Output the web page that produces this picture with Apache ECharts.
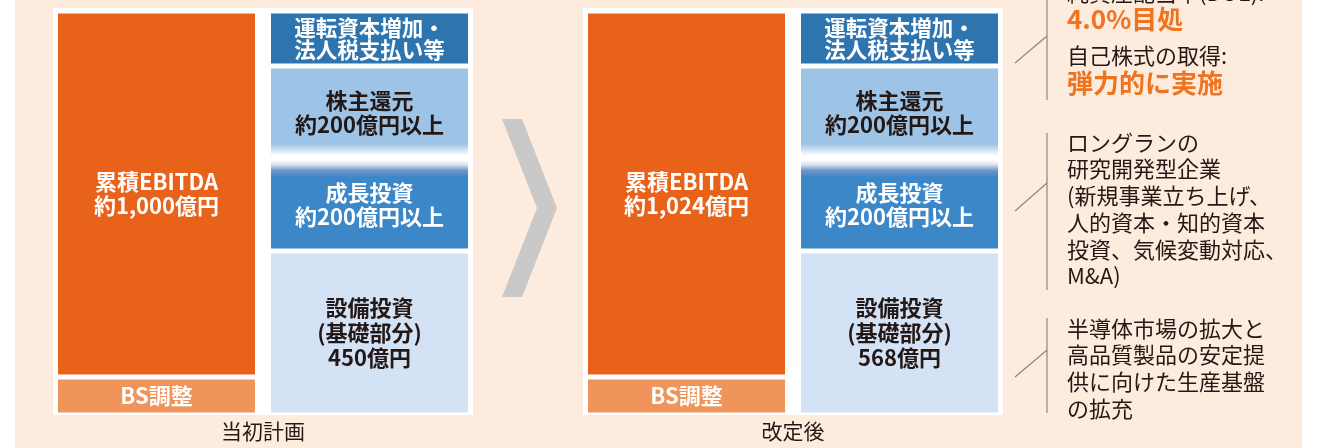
<!DOCTYPE html>
<html>
<head>
<meta charset="utf-8">
<script src="https://cdn.jsdelivr.net/npm/echarts@6/dist/echarts.min.js"></script>
<style>
  html, body { margin: 0; padding: 0; background: #fff; }
  #chart-box { width: 1317px; height: 448px; }
</style>
</head>
<body>
<div id="chart-box"></div>
<script>
// 当初計画 / 改定後
const periods = ["当初計画", "改定後"];
const ebitdaText = ["約1,000億円", "約1,024億円"];
const capexText = ["450億円", "568億円"];

// 模式図の高さ（図から読んだ相対値）
const bsHeights = [38, 38];
const ebitdaHeights = [366, 366];
const capexHeights = [164, 164];
const growthHeights = [92.5, 92.5];
const returnHeights = [92.5, 92.5];
const workingHeights = [55, 55];

const FONT = "Noto Sans CJK JP";
const DARK = "#231815";

const chart = echarts.init(document.getElementById("chart-box"));

function bar(name, stack, gi, value, color, text, textColor, fontSize, lineHeight) {
  return {
    name: name,
    type: "bar",
    stack: stack + gi,
    xAxisIndex: gi,
    yAxisIndex: gi,
    barWidth: 202,
    barGap: "5.45%",
    data: [value],
    itemStyle: { color: color, borderColor: "#fff", borderWidth: 2.5 },
    label: {
      show: true,
      position: "inside",
      formatter: text,
      color: textColor,
      fontFamily: FONT,
      fontWeight: "bold",
      fontSize: fontSize,
      lineHeight: lineHeight,
    },
    emphasis: { disabled: true },
    silent: true,
  };
}

const series = [];
periods.forEach(function (p, i) {
  series.push(bar("BS調整", "src", i, bsHeights[i], "#EF945A", "BS調整", "#fff", 22, 24));
  series.push(bar("累積EBITDA", "src", i, ebitdaHeights[i], "#E9621A",
    "累積EBITDA\n" + ebitdaText[i], "#fff", 22, 24));
  series.push(bar("設備投資", "use", i, capexHeights[i], "#D3E2F4",
    "設備投資\n(基礎部分)\n" + capexText[i], DARK, 22, 25));
  series.push(bar("成長投資", "use", i, growthHeights[i], {
    type: "linear", x: 0, y: 0, x2: 0, y2: 1,
    colorStops: [
      { offset: 0, color: "#ffffff" },
      { offset: 0.06, color: "#e3eaf4" },
      { offset: 0.13, color: "#7096c6" },
      { offset: 0.2, color: "#3C87C8" },
      { offset: 1, color: "#3C87C8" },
    ],
  }, "成長投資\n約200億円以上", "#fff", 22, 24));
  series.push(bar("株主還元", "use", i, returnHeights[i], {
    type: "linear", x: 0, y: 0, x2: 0, y2: 1,
    colorStops: [
      { offset: 0, color: "#9DC3E6" },
      { offset: 0.84, color: "#9DC3E6" },
      { offset: 0.97, color: "#ffffff" },
      { offset: 1, color: "#ffffff" },
    ],
  }, "株主還元\n約200億円以上", DARK, 22, 24));
  series.push(bar("運転資本", "use", i, workingHeights[i], "#2E74AF",
    "運転資本増加・\n法人税支払い等", "#fff", 21.5, 22));
});

const gridLefts = [53, 583];

const option = {
  backgroundColor: "#FDEBDD",
  animation: false,
  grid: gridLefts.map(function (l) {
    return {
      left: l, top: 8, width: 420, height: 407,
      show: true, backgroundColor: "#fff", borderWidth: 0,
    };
  }),
  xAxis: periods.map(function (p, i) {
    return {
      type: "category",
      gridIndex: i,
      data: [p],
      axisLine: { show: false },
      axisTick: { show: false },
      axisLabel: { color: DARK, fontFamily: FONT, fontSize: 21, margin: 6 },
    };
  }),
  yAxis: periods.map(function (p, i) {
    return { type: "value", gridIndex: i, min: 0, max: 407, show: false };
  }),
  series: series,
  graphic: [
    // 左右の白い余白
    { type: "rect", shape: { x: 0, y: 0, width: 15, height: 448 }, style: { fill: "#fff" } },
    { type: "rect", shape: { x: 1302, y: 0, width: 15, height: 448 }, style: { fill: "#fff" } },
    // 矢印
    {
      type: "polygon",
      shape: { points: [[502, 119], [522, 119], [557, 208], [522, 297], [502, 297], [537, 208]] },
      style: { fill: "#C9C9C9" },
    },
    // 括弧線
    { type: "line", shape: { x1: 1047, y1: 0, x2: 1047, y2: 100 }, style: { stroke: "#888", lineWidth: 1.2 } },
    { type: "line", shape: { x1: 1015, y1: 63, x2: 1047, y2: 36 }, style: { stroke: "#888", lineWidth: 1.2 } },
    { type: "line", shape: { x1: 1047, y1: 133, x2: 1047, y2: 290 }, style: { stroke: "#888", lineWidth: 1.2 } },
    { type: "line", shape: { x1: 1015, y1: 211, x2: 1047, y2: 183 }, style: { stroke: "#888", lineWidth: 1.2 } },
    { type: "line", shape: { x1: 1047, y1: 318, x2: 1047, y2: 413 }, style: { stroke: "#888", lineWidth: 1.2 } },
    { type: "line", shape: { x1: 1015, y1: 377, x2: 1047, y2: 350 }, style: { stroke: "#888", lineWidth: 1.2 } },
    // 注記
    {
      type: "text", left: 1067, top: -18,
      style: { text: "純資産配当率(DOE):", fill: DARK, font: "22px '" + FONT + "'" },
    },
    {
      type: "text", left: 1067, top: 6,
      style: { text: "4.0%目処", fill: "#EE7420", font: "bold 26px '" + FONT + "'" },
    },
    {
      type: "text", left: 1067, top: 45,
      style: { text: "自己株式の取得:", fill: DARK, font: "22px '" + FONT + "'" },
    },
    {
      type: "text", left: 1067, top: 70,
      style: { text: "弾力的に実施", fill: "#EE7420", font: "bold 26px '" + FONT + "'" },
    },
    {
      type: "text", left: 1067, top: 129,
      style: {
        text: "ロングランの\n研究開発型企業\n(新規事業立ち上げ、\n人的資本・知的資本\n投資、気候変動対応、\nM&A)",
        fill: DARK, font: "22px '" + FONT + "'", lineHeight: 26.7,
      },
    },
    {
      type: "text", left: 1067, top: 315,
      style: {
        text: "半導体市場の拡大と\n高品質製品の安定提\n供に向けた生産基盤\nの拡充",
        fill: DARK, font: "22px '" + FONT + "'", lineHeight: 26.7,
      },
    },
  ],
};

chart.setOption(option);
</script>
</body>
</html>
